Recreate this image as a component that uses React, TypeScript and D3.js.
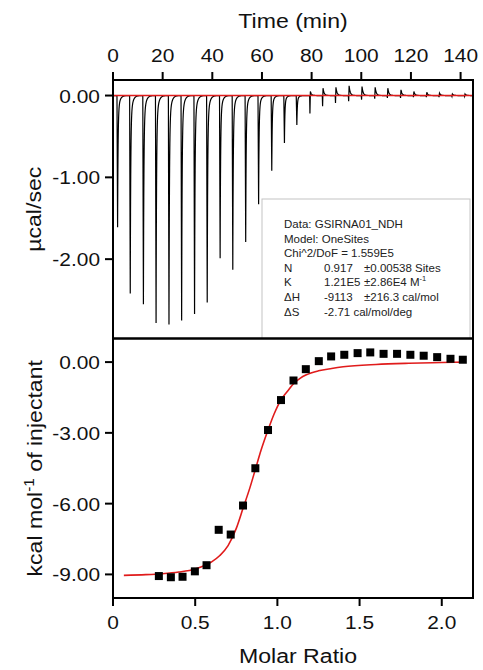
import React from "react";
import * as d3 from "d3";

// ---- raw thermogram: injection times (min), peak minima and overshoot maxima (µcal/sec)
const injTimes = [1.6, 6.7, 12.0, 17.1, 22.3, 27.4, 32.6, 37.7, 42.9, 48.0, 53.2, 58.4, 63.7, 68.8, 73.8, 79.2, 84.3, 89.5, 94.8, 100.0, 105.3, 110.4, 115.7, 120.9, 126.1, 131.2, 136.4, 141.5];
const injDips = [-1.61, -2.42, -2.55, -2.78, -2.8, -2.75, -2.67, -2.53, -1.99, -2.13, -1.79, -1.33, -0.92, -0.58, -0.36, -0.22, -0.13, -0.09, -0.07, -0.05, -0.04, -0.03, -0.03, -0.02, -0.02, -0.02, -0.01, -0.01];
const injRises = [0, 0, 0, 0, 0, 0, 0, 0, 0, 0, 0, 0, 0, 0, 0, 0.05, 0.09, 0.1, 0.12, 0.11, 0.1, 0.09, 0.07, 0.05, 0.04, 0.03, 0.02, 0.02];

// ---- integrated heats (kcal/mol of injectant) vs molar ratio
const molarRatio = [0.279, 0.352, 0.423, 0.498, 0.569, 0.643, 0.716, 0.791, 0.866, 0.943, 1.022, 1.098, 1.173, 1.252, 1.327, 1.407, 1.488, 1.565, 1.646, 1.728, 1.809, 1.89, 1.972, 2.053, 2.128];
const heats = [-9.07, -9.12, -9.1, -8.87, -8.61, -7.11, -7.31, -6.08, -4.5, -2.88, -1.61, -0.78, -0.3, 0.04, 0.24, 0.31, 0.38, 0.41, 0.35, 0.35, 0.31, 0.27, 0.21, 0.14, 0.1];

// ---- one-site fit curve
const fitRatio = [0.066, 0.2, 0.3, 0.4, 0.5, 0.6, 0.65, 0.7, 0.75, 0.791, 0.834, 0.866, 0.9, 0.943, 0.98, 1.022, 1.06, 1.098, 1.14, 1.173, 1.25, 1.33, 1.4, 1.6, 1.8, 2.0, 2.143];
const fitHeat = [-9.04, -9.01, -8.97, -8.9, -8.77, -8.47, -8.2, -7.78, -7.05, -6.2, -5.3, -4.55, -3.75, -2.88, -2.2, -1.6, -1.25, -0.92, -0.68, -0.55, -0.37, -0.27, -0.2, -0.1, -0.05, -0.02, 0.0];

// ---- axis ticks
const timeTicks = [0, 20, 40, 60, 80, 100, 120, 140];
const powerTicks = [0, -1, -2];
const powerTickLabels = ["0.00", "-1.00", "-2.00"];
const heatTicks = [0, -3, -6, -9];
const heatTickLabels = ["0.00", "-3.00", "-6.00", "-9.00"];
const ratioTicks = [0, 0.5, 1, 1.5, 2];
const ratioTickLabels = ["0", "0.5", "1.0", "1.5", "2.0"];

// ---- fit summary
const fitLines = ["Data: GSIRNA01_NDH", "Model: OneSites", "Chi^2/DoF = 1.559E5"];
const paramNames = ["N", "K", "\u0394H", "\u0394S"];
const paramValues = ["0.917", "1.21E5", "-9113", "-2.71 cal/mol/deg"];
const paramErrors = ["\u00B10.00538 Sites", "\u00B12.86E4 M", "\u00B1216.3 cal/mol", ""];

const W = 483;
const H = 670;
const FONT = "'Liberation Sans', Arial, Helvetica, sans-serif";
const RED = "#e01b1b";

const left = 113;
const right = 473;
const topY0 = 80;
const midY = 338.5;
const botY1 = 598;

const xTime = d3.scaleLinear().domain([0, 145]).range([left, right]);
const yPower = d3.scaleLinear().domain([-2.97, 0.19]).range([midY, topY0]);
const xRatio = d3.scaleLinear().domain([0, 2.19]).range([left, right]);
const yHeat = d3.scaleLinear().domain([-10, 1]).range([botY1, midY]);

// shape of one injection peak, dt minutes after the injection starts
function peakAt(dt: number, dip: number, rise: number): number {
  if (dt < 0 || dt > 6) return 0;
  if (rise <= 0) {
    if (dt < 0.25) return (dip * dt) / 0.25;
    const s = dt - 0.25;
    return dip * (0.85 * Math.exp(-s / 0.18) + 0.15 * Math.exp(-s / 0.7));
  }
  if (dt < 0.12) return (dip * dt) / 0.12;
  if (dt < 0.3) return dip + ((rise - dip) * (dt - 0.12)) / 0.18;
  return rise * Math.exp(-(dt - 0.3) / 0.45);
}

function thermogram(): [number, number][] {
  const ts: number[] = [];
  for (let t = 0; t <= 145; t += 0.02) ts.push(t);
  injTimes.forEach((t0) => {
    ts.push(t0, t0 + 0.12, t0 + 0.25, t0 + 0.3);
  });
  ts.sort((a, b) => a - b);
  return ts.map((t) => {
    let v = 0;
    injTimes.forEach((t0, i) => {
      v += peakAt(t - t0, injDips[i], injRises[i]);
    });
    return [t, v];
  });
}

function Txt(props: {
  x: number;
  y: number;
  size: number;
  anchor?: string;
  rotate?: number;
  sx?: number;
  children: React.ReactNode;
}) {
  const { x, y, size, anchor = "middle", rotate = 0, sx = 1.1, children } = props;
  return (
    <text
      transform={`translate(${x},${y}) rotate(${rotate}) scale(${sx},1)`}
      textAnchor={anchor}
      fontSize={size}
      fontFamily={FONT}
      fill="#111"
    >
      {children}
    </text>
  );
}

export default function App() {
  const trace = thermogram();
  const traceLine = d3
    .line<[number, number]>()
    .x((d) => xTime(d[0]))
    .y((d) => yPower(d[1]));
  const fitLine = d3
    .line<number>()
    .x((_, i) => xRatio(fitRatio[i]))
    .y((d) => yHeat(d))
    .curve(d3.curveMonotoneX);

  const tickLen = 8;
  const tickFs = 19;
  const titleFs = 21;
  const box = { x: 262, y: 199, w: 208, h: midY - 199 };
  const legFs = 11.5;
  const rowH = 14.6;

  return (
    <svg
      width={W}
      height={H}
      style={{ position: "absolute", left: 0, top: 0, background: "#fff" }}
    >
      <rect x={0} y={0} width={W} height={H} fill="#fff" />

      {/* ---------- upper panel: raw heat rate ---------- */}
      <path d={traceLine(trace) || ""} fill="none" stroke="#000" strokeWidth={1.2} />
      <line
        x1={left}
        x2={right}
        y1={yPower(0)}
        y2={yPower(0)}
        stroke={RED}
        strokeWidth={1.6}
      />

      {/* fit summary box */}
      <rect
        x={box.x}
        y={box.y}
        width={box.w}
        height={box.h}
        fill="#fff"
        stroke="#c4c4c4"
        strokeWidth={1}
      />
      <g fontFamily={FONT} fontSize={legFs} fill="#222">
        {fitLines.map((s, i) => (
          <text key={s} x={284} y={228 + i * rowH}>
            {s}
          </text>
        ))}
        {paramNames.map((s, i) => (
          <text key={s} x={284} y={228 + (i + 3) * rowH}>
            {s}
          </text>
        ))}
        {paramValues.map((s, i) => (
          <text key={s} x={324} y={228 + (i + 3) * rowH}>
            {s}
          </text>
        ))}
        {paramErrors.map((s, i) => (
          <text key={i} x={364} y={228 + (i + 3) * rowH}>
            {s}
            {i === 1 ? (
              <tspan fontSize={7.5} dy={-5}>
                -1
              </tspan>
            ) : null}
          </text>
        ))}
      </g>

      <rect
        x={left}
        y={topY0}
        width={right - left}
        height={midY - topY0}
        fill="none"
        stroke="#000"
        strokeWidth={2}
      />

      {/* top time axis */}
      {timeTicks.map((t) => (
        <g key={t}>
          <line
            x1={xTime(t)}
            x2={xTime(t)}
            y1={topY0}
            y2={topY0 - tickLen}
            stroke="#000"
            strokeWidth={2}
          />
          <Txt x={xTime(t)} y={62} size={tickFs}>
            {String(t)}
          </Txt>
        </g>
      ))}
      <Txt x={(left + right) / 2} y={28} size={titleFs}>
        Time (min)
      </Txt>

      {/* power axis */}
      {powerTicks.map((v, i) => (
        <g key={v}>
          <line
            x1={left}
            x2={left - tickLen}
            y1={yPower(v)}
            y2={yPower(v)}
            stroke="#000"
            strokeWidth={2}
          />
          <Txt x={100} y={yPower(v) + 7} size={tickFs} anchor="end">
            {powerTickLabels[i]}
          </Txt>
        </g>
      ))}
      <Txt x={41} y={(topY0 + midY) / 2} size={titleFs} rotate={-90}>
        µcal/sec
      </Txt>

      {/* ---------- lower panel: binding isotherm ---------- */}
      <path
        d={fitLine(fitHeat) || ""}
        fill="none"
        stroke={RED}
        strokeWidth={1.6}
      />
      {heats.map((v, i) => (
        <rect
          key={i}
          x={xRatio(molarRatio[i]) - 4}
          y={yHeat(v) - 4}
          width={8}
          height={8}
          fill="#000"
        />
      ))}
      <rect
        x={left}
        y={midY}
        width={right - left}
        height={botY1 - midY}
        fill="none"
        stroke="#000"
        strokeWidth={2}
      />

      {heatTicks.map((v, i) => (
        <g key={v}>
          <line
            x1={left}
            x2={left - tickLen}
            y1={yHeat(v)}
            y2={yHeat(v)}
            stroke="#000"
            strokeWidth={2}
          />
          <Txt x={100} y={yHeat(v) + 7} size={tickFs} anchor="end">
            {heatTickLabels[i]}
          </Txt>
        </g>
      ))}
      <g transform={`translate(42,${(midY + botY1) / 2}) rotate(-90) scale(1.1,1)`}>
        <text textAnchor="middle" fontSize={titleFs} fontFamily={FONT} fill="#111">
          kcal mol
          <tspan fontSize={14} dy={-8}>
            -1
          </tspan>
          <tspan dy={8}> of injectant</tspan>
        </text>
      </g>

      {ratioTicks.map((v, i) => (
        <g key={v}>
          <line
            x1={xRatio(v)}
            x2={xRatio(v)}
            y1={botY1}
            y2={botY1 + tickLen}
            stroke="#000"
            strokeWidth={2}
          />
          <Txt x={xRatio(v)} y={629} size={tickFs}>
            {ratioTickLabels[i]}
          </Txt>
        </g>
      ))}
      <Txt x={298} y={663} size={titleFs}>
        Molar Ratio
      </Txt>
    </svg>
  );
}
